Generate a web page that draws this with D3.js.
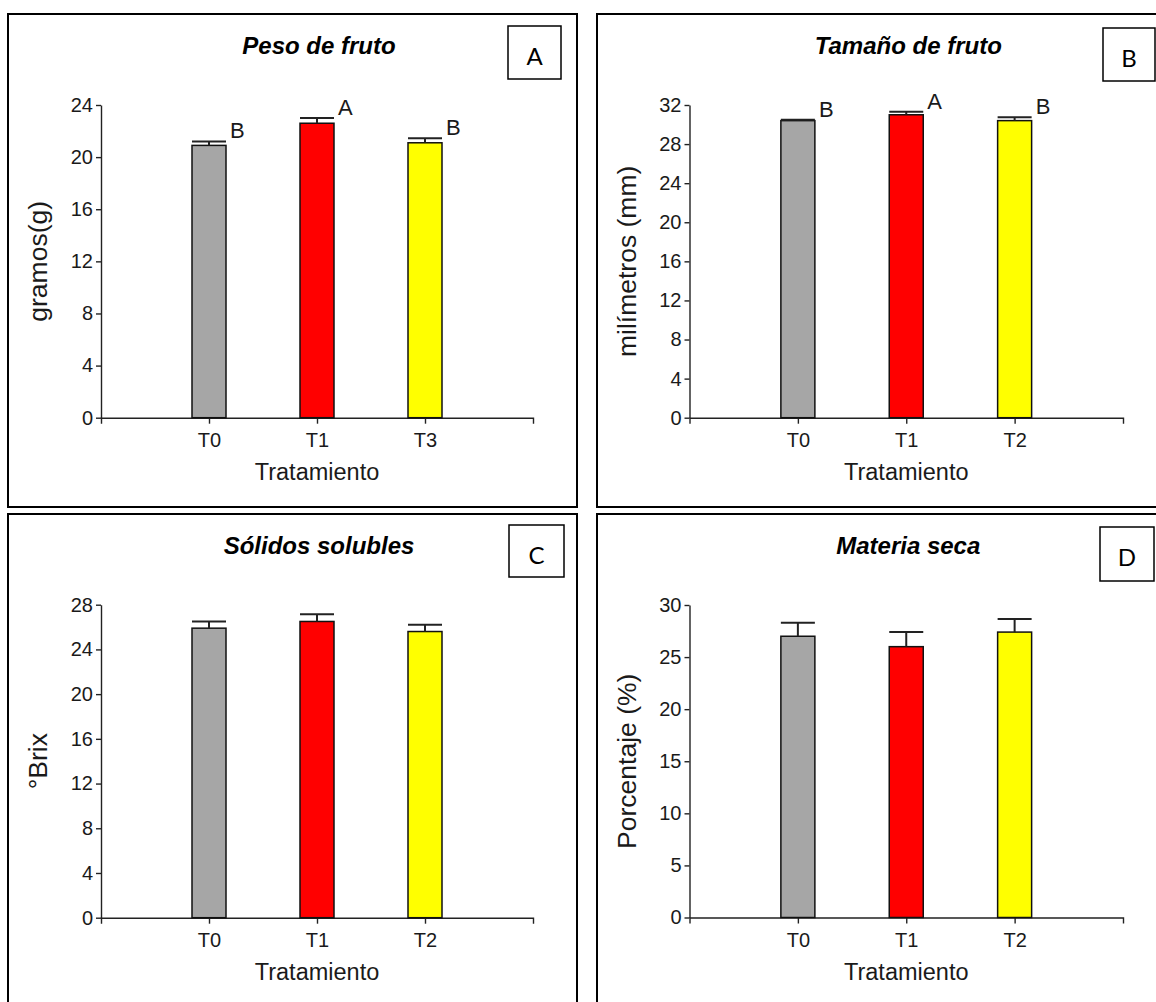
<!DOCTYPE html>
<html>
<head>
<meta charset="utf-8">
<script src="https://cdn.jsdelivr.net/npm/d3@7"></script>
<style>
  body { margin: 0; background: #fff; }
  text { font-family: "Liberation Sans", Arial, sans-serif; fill: #1a1a1a; }
</style>
</head>
<body>
<div id="chart"></div>
<script>
// values
const pesoCats = ["T0", "T1", "T3"];
const pesoMean = [20.9, 22.6, 21.1];
const pesoErr = [0.3, 0.4, 0.35];
const pesoLetters = ["B", "A", "B"];
const pesoTicks = [0, 4, 8, 12, 16, 20, 24];

const tamanoCats = ["T0", "T1", "T2"];
const tamanoMean = [30.4, 31.0, 30.4];
const tamanoErr = [0.1, 0.3, 0.35];
const tamanoLetters = ["B", "A", "B"];
const tamanoTicks = [0, 4, 8, 12, 16, 20, 24, 28, 32];

const solidosCats = ["T0", "T1", "T2"];
const solidosMean = [25.9, 26.5, 25.6];
const solidosErr = [0.6, 0.65, 0.6];
const solidosTicks = [0, 4, 8, 12, 16, 20, 24, 28];

const materiaCats = ["T0", "T1", "T2"];
const materiaMean = [27.0, 26.0, 27.4];
const materiaErr = [1.3, 1.4, 1.25];
const materiaTicks = [0, 5, 10, 15, 20, 25, 30];

const barColors = ["#a6a6a6", "#ff0000", "#ffff00"];

const svg = d3.select("#chart")
  .append("svg")
  .attr("width", 1156)
  .attr("height", 1002);

function drawPanel(p) {
  const g = svg.append("g");

  // outer frame
  g.append("rect")
    .attr("x", p.frame[0]).attr("y", p.frame[1])
    .attr("width", p.frame[2]).attr("height", p.frame[3])
    .attr("fill", "none").attr("stroke", "#000").attr("stroke-width", 2);

  const x = d3.scalePoint().domain(p.cats).range(p.xr).padding(1);
  const y = d3.scaleLinear().domain([0, d3.max(p.ticks)]).range(p.yr);
  const bw = 34;

  // x axis
  const xa = g.append("g")
    .attr("transform", `translate(0,${p.yr[0]})`)
    .style("color", "#222")
    .call(d3.axisBottom(x).tickSize(6).tickSizeOuter(6).tickPadding(9));
  xa.selectAll("text").style("font-size", "20px");
  xa.selectAll("path,line").attr("stroke-width", 1.4);

  // y axis
  const ya = g.append("g")
    .attr("transform", `translate(${p.xr[0]},0)`)
    .style("color", "#222")
    .call(d3.axisLeft(y).tickValues(p.ticks).tickSize(5).tickSizeOuter(0).tickPadding(3));
  ya.selectAll("text").style("font-size", "20px");
  ya.selectAll("path,line").attr("stroke-width", 1.4);

  const rows = p.cats.map((c, i) => ({ c, v: p.mean[i], e: p.err[i], col: barColors[i], lab: p.letters ? p.letters[i] : null }));

  // bars
  g.selectAll(".bar")
    .data(rows)
    .join("rect")
    .attr("class", "bar")
    .attr("x", d => x(d.c) - bw / 2)
    .attr("y", d => y(d.v))
    .attr("width", bw)
    .attr("height", d => y(0) - y(d.v))
    .attr("fill", d => d.col)
    .attr("stroke", "#111")
    .attr("stroke-width", 1.5);

  // error bars (upper only)
  g.selectAll(".err")
    .data(rows)
    .join("line")
    .attr("class", "err")
    .attr("x1", d => x(d.c)).attr("x2", d => x(d.c))
    .attr("y1", d => y(d.v)).attr("y2", d => y(d.v + d.e))
    .attr("stroke", "#222").attr("stroke-width", 2);
  g.selectAll(".cap")
    .data(rows)
    .join("line")
    .attr("class", "cap")
    .attr("x1", d => x(d.c) - bw / 2).attr("x2", d => x(d.c) + bw / 2)
    .attr("y1", d => y(d.v + d.e)).attr("y2", d => y(d.v + d.e))
    .attr("stroke", "#222").attr("stroke-width", 2);

  // significance letters
  if (p.letters) {
    g.selectAll(".sig")
      .data(rows)
      .join("text")
      .attr("class", "sig")
      .attr("x", d => x(d.c) + bw / 2 + 4)
      .attr("y", d => y(d.v + d.e) - 3)
      .style("font-size", "22px")
      .text(d => d.lab);
  }

  // title
  g.append("text")
    .attr("x", (p.xr[0] + p.xr[1]) / 2 + 2)
    .attr("y", p.frame[1] + 40)
    .attr("text-anchor", "middle")
    .style("font-size", "24px")
    .style("font-weight", "bold")
    .style("font-style", "italic")
    .style("fill", "#000")
    .text(p.title);

  // x label
  g.append("text")
    .attr("x", (p.xr[0] + p.xr[1]) / 2)
    .attr("y", p.yr[0] + 62)
    .attr("text-anchor", "middle")
    .style("font-size", "23.5px")
    .text("Tratamiento");

  // y label
  g.append("text")
    .attr("transform", `translate(${p.xr[0] - 54},${(p.yr[0] + p.yr[1]) / 2}) rotate(-90)`)
    .attr("text-anchor", "middle")
    .style("font-size", "26.5px")
    .text(p.ylab);

  // panel letter box
  g.append("rect")
    .attr("x", p.tag[0]).attr("y", p.tag[1])
    .attr("width", p.tag[2]).attr("height", p.tag[3])
    .attr("fill", "#fff").attr("stroke", "#000").attr("stroke-width", 1.5);
  g.append("text")
    .attr("x", p.tag[0] + p.tag[2] / 2)
    .attr("y", p.tag[1] + 39)
    .attr("text-anchor", "middle")
    .style("font-family", "Lato, 'Open Sans', sans-serif")
    .style("font-size", "24px")
    .style("fill", "#000")
    .text(p.name);
}

drawPanel({
  name: "A", title: "Peso de fruto", ylab: "gramos(g)",
  cats: pesoCats, mean: pesoMean, err: pesoErr, letters: pesoLetters, ticks: pesoTicks,
  frame: [8, 14, 569, 493], xr: [101, 533], yr: [417.7, 105], tag: [508, 26, 53, 53]
});
drawPanel({
  name: "B", title: "Tamaño de fruto", ylab: "milímetros (mm)",
  cats: tamanoCats, mean: tamanoMean, err: tamanoErr, letters: tamanoLetters, ticks: tamanoTicks,
  frame: [597, 14, 600, 493], xr: [689.5, 1123], yr: [417.7, 105], tag: [1103, 28, 52, 53]
});
drawPanel({
  name: "C", title: "Sólidos solubles", ylab: "°Brix",
  cats: solidosCats, mean: solidosMean, err: solidosErr, letters: null, ticks: solidosTicks,
  frame: [8, 514, 569, 500], xr: [101, 533], yr: [917.7, 604.7], tag: [509, 525, 55, 52]
});
drawPanel({
  name: "D", title: "Materia seca", ylab: "Porcentaje (%)",
  cats: materiaCats, mean: materiaMean, err: materiaErr, letters: null, ticks: materiaTicks,
  frame: [597, 514, 600, 500], xr: [689.5, 1123], yr: [917.5, 605], tag: [1100, 527, 54, 54]
});
</script>
</body>
</html>
